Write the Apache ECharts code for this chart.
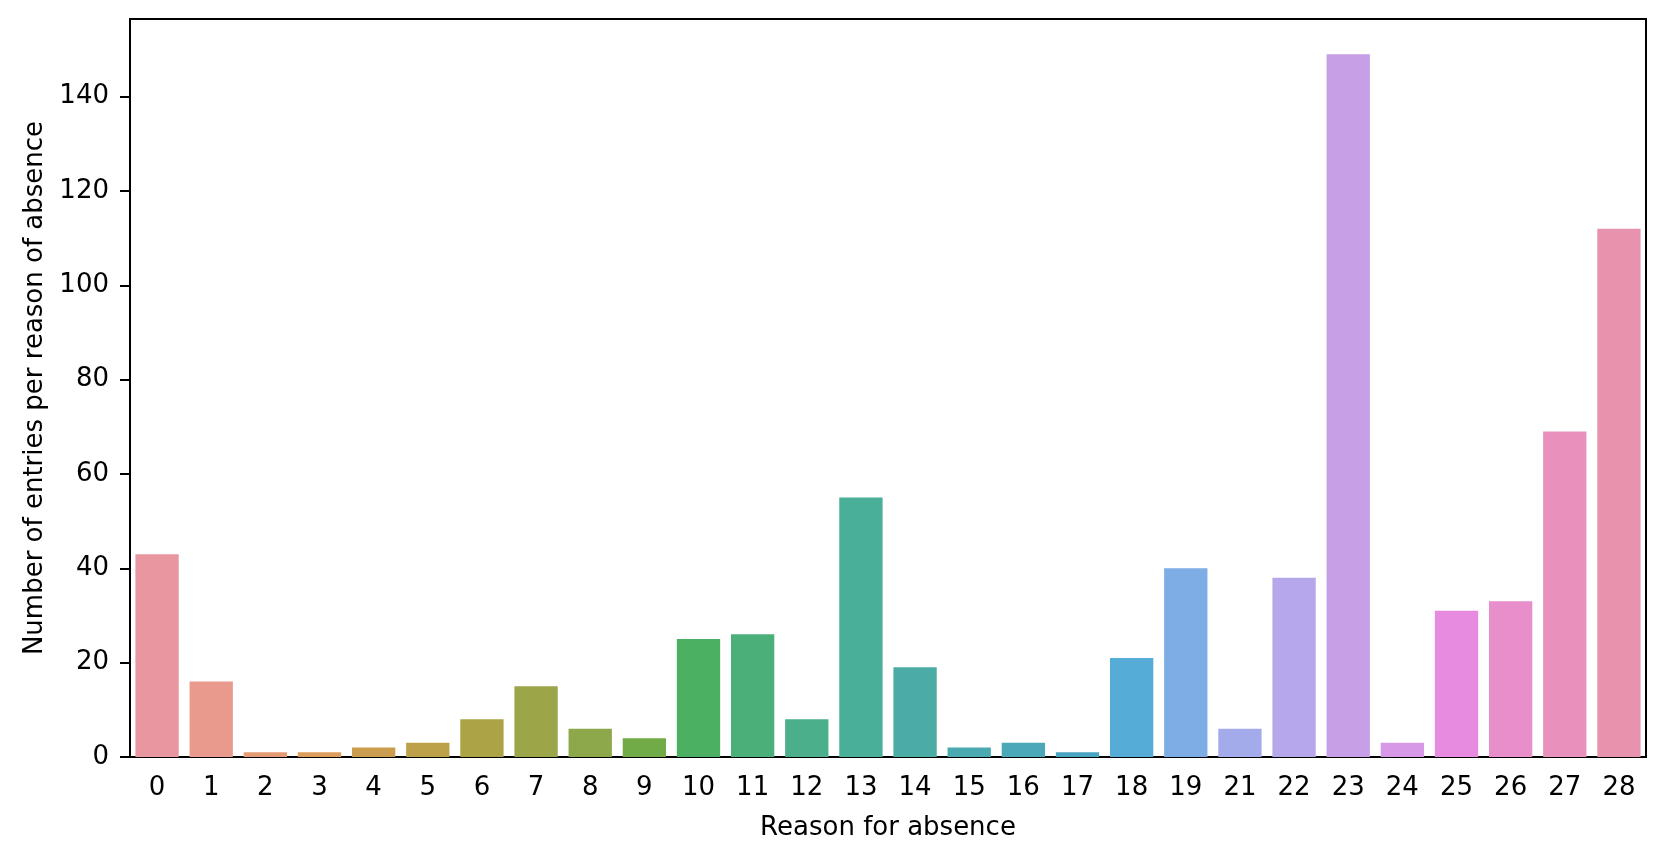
<!DOCTYPE html>
<html>
<head>
<meta charset="utf-8">
<script src="https://cdn.jsdelivr.net/npm/echarts@6/dist/echarts.min.js"></script>
<style>
  html, body { margin: 0; padding: 0; background: #fff; }
  #chart { width: 1665px; height: 854px; }
</style>
</head>
<body>
<div id="chart"></div>
<script>
  // reasons (20 is not in the data)
  const reasons = ["0", "1", "2", "3", "4", "5", "6", "7", "8", "9", "10", "11", "12", "13",
    "14", "15", "16", "17", "18", "19", "21", "22", "23", "24", "25", "26", "27", "28"];
  const counts = [43, 16, 1, 1, 2, 3, 8, 15, 6, 4, 25, 26, 8, 55,
    19, 2, 3, 1, 21, 40, 6, 38, 149, 3, 31, 33, 69, 112];
  // husl-ish palette
  const barColors = [
    "#e8969f", "#e99a8d", "#e59b74", "#dc9c5c", "#cb9e4f", "#bca14a", "#aba346",
    "#9ca548", "#8da84a", "#70ab47", "#4bb062", "#4aaf79", "#4aaf8a", "#4aaf98",
    "#4aaca5", "#4aaab0", "#4aa8b9", "#4aa5c3", "#55acd7", "#7eade6", "#a3abea",
    "#b5a7ea", "#c79fe7", "#d898e8", "#e68be0", "#e78ecb", "#e891bd", "#e793ae"
  ];
  const yTicks = [0, 20, 40, 60, 80, 100, 120, 140];
  const yMax = 156.45;

  const font = "DejaVu Sans";
  const chart = echarts.init(document.getElementById("chart"), null, { renderer: "canvas" });

  chart.setOption({
    animation: false,
    grid: {
      left: 130,
      right: 19,
      top: 19,
      bottom: 97,
      show: true,
      borderColor: "#000",
      borderWidth: 2,
      backgroundColor: "transparent",
    },
    xAxis: {
      type: "category",
      data: reasons,
      name: "Reason for absence",
      nameLocation: "middle",
      nameGap: 58,
      nameTextStyle: { fontFamily: font, fontSize: 26, color: "#000" },
      axisLine: { lineStyle: { color: "#000", width: 2 } },
      axisTick: { alignWithLabel: true, length: 10, lineStyle: { color: "#000", width: 2 } },
      axisLabel: { interval: 0, margin: 18, fontFamily: font, fontSize: 26, color: "#000" },
      splitLine: { show: false },
    },
    yAxis: {
      type: "value",
      min: 0,
      max: yMax,
      interval: 20,
      name: "Number of entries per reason of absence",
      nameLocation: "middle",
      nameGap: 82,
      nameTextStyle: { fontFamily: font, fontSize: 26, color: "#000" },
      axisLine: { show: true, lineStyle: { color: "#000", width: 2 } },
      axisTick: { show: true, length: 10, customValues: yTicks, lineStyle: { color: "#000", width: 2 } },
      axisLabel: { margin: 21, customValues: yTicks, fontFamily: font, fontSize: 26, color: "#000" },
      splitLine: { show: false },
    },
    series: [
      {
        type: "bar",
        barCategoryGap: "20%",
        data: counts.map((v, i) => ({ value: v, itemStyle: { color: barColors[i] } })),
      },
    ],
  });
</script>
</body>
</html>
